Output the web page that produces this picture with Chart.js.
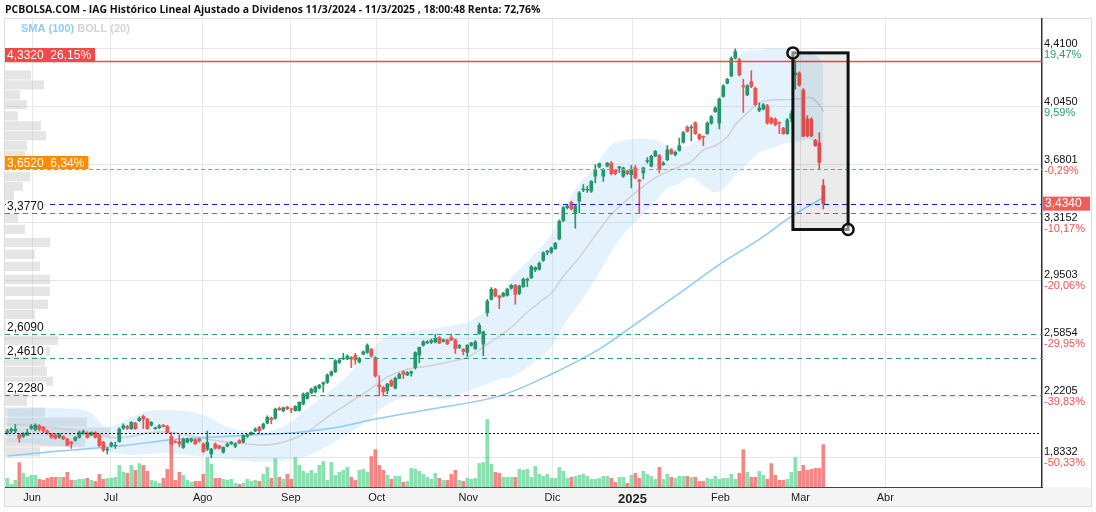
<!DOCTYPE html>
<html>
<head>
<meta charset="utf-8">
<script src="https://cdn.jsdelivr.net/npm/chart.js@4.4.1/dist/chart.umd.min.js"></script>
<style>
html, body { margin: 0; padding: 0; background: #fff; }
#wrap { width: 1096px; height: 512px; }
</style>
</head>
<body>
<div id="wrap"><canvas id="chart" width="1096" height="512"></canvas></div>
<script>
// Month ticks (trading-day index of first session) and labels
const monthIdx = [6.2, 25.9, 48.85, 70.9, 92.35, 115.25, 136.3, 156.3, 178.3, 198.3, 219.5];
const monthLabels = ['Jun', 'Jul', 'Ago', 'Sep', 'Oct', 'Nov', 'Dic', '2025', 'Feb', 'Mar', 'Abr'];

// Right axis ticks
const yTicks = [4.41, 4.045, 3.6801, 3.3152, 2.9503, 2.5854, 2.2205, 1.8332];
const yTickText = ['4,4100', '4,0450', '3,6801', '3,3152', '2,9503', '2,5854', '2,2205', '1,8332'];
const yTickPct = ['19,47%', '9,59%', '-0,29%', '-10,17%', '-20,06%', '-29,95%', '-39,83%', '-50,33%'];

// Daily OHLC, one entry per session
const openP = [
  1.99, 2.00, 2.00, 1.975, 1.966, 1.975, 2.017, 2.01, 2.033, 2.023,
  2.0, 1.98, 1.975, 1.96, 1.966, 1.949, 1.93, 1.94, 1.96, 1.988,
  1.987, 1.975, 1.99, 1.975, 1.93, 1.88, 1.907, 1.905, 1.932, 2.017,
  2.03, 2.015, 2.05, 2.065, 2.093, 2.075, 2.037, 2.015, 2.021, 2.037,
  2.029, 1.966, 1.935, 1.933, 1.897, 1.93, 1.937, 1.945, 1.949, 1.918,
  1.886, 1.855, 1.918, 1.907, 1.866, 1.904, 1.918, 1.904, 1.939, 1.929,
  1.966, 1.979, 2.0, 2.023, 2.017, 2.05, 2.082, 2.08, 2.143, 2.128,
  2.15, 2.14, 2.128, 2.13, 2.17, 2.206, 2.239, 2.247, 2.272, 2.295,
  2.306, 2.352, 2.373, 2.432, 2.455, 2.455, 2.465, 2.477, 2.435, 2.485,
  2.495, 2.516, 2.463, 2.29, 2.275, 2.254, 2.317, 2.27, 2.332, 2.373,
  2.352, 2.365, 2.401, 2.479, 2.541, 2.555, 2.558, 2.562, 2.59, 2.565,
  2.575, 2.59, 2.575, 2.527, 2.516, 2.495, 2.541, 2.52, 2.616, 2.547,
  2.747, 2.83, 2.893, 2.851, 2.851, 2.855, 2.901, 2.918, 2.868, 2.91,
  2.95, 2.967, 3.018, 3.02, 3.076, 3.128, 3.128, 3.15, 3.212, 3.326,
  3.409, 3.443, 3.376, 3.449, 3.52, 3.52, 3.512, 3.607, 3.666, 3.607,
  3.67, 3.69, 3.645, 3.66, 3.607, 3.639, 3.617, 3.66, 3.585, 3.628,
  3.70, 3.67, 3.733, 3.737, 3.68, 3.711, 3.774, 3.743, 3.77, 3.82,
  3.917, 3.911, 3.946, 3.869, 3.858, 3.875, 3.942, 4.015, 3.942, 4.11,
  4.194, 4.24, 4.351, 4.341, 4.178, 4.12, 4.204, 4.162, 4.022, 4.03,
  4.051, 3.974, 3.967, 3.945, 3.911, 3.875, 3.97, 4.246, 4.257, 4.15,
  3.968, 3.968, 3.833, 3.817, 3.548
];
const highP = [
  2.01, 2.02, 2.04, 1.985, 1.99, 2.01, 2.04, 2.045, 2.04, 2.03,
  2.005, 1.985, 1.98, 1.985, 1.97, 1.955, 1.935, 1.965, 2.0, 2.005,
  1.995, 1.995, 1.995, 1.98, 1.935, 1.895, 1.93, 1.93, 2.02, 2.045,
  2.035, 2.06, 2.055, 2.09, 2.10, 2.08, 2.06, 2.025, 2.04, 2.04,
  2.035, 1.99, 1.94, 1.975, 1.955, 1.955, 1.955, 1.95, 1.955, 1.925,
  2.0, 1.89, 1.925, 1.91, 1.90, 1.925, 1.935, 1.925, 1.945, 1.975,
  1.98, 1.995, 2.02, 2.03, 2.05, 2.095, 2.088, 2.145, 2.15, 2.15,
  2.155, 2.145, 2.16, 2.185, 2.24, 2.245, 2.27, 2.285, 2.295, 2.31,
  2.36, 2.38, 2.45, 2.455, 2.49, 2.48, 2.47, 2.49, 2.465, 2.505,
  2.55, 2.52, 2.47, 2.35, 2.28, 2.30, 2.325, 2.34, 2.365, 2.38,
  2.375, 2.38, 2.50, 2.53, 2.57, 2.57, 2.58, 2.61, 2.595, 2.58,
  2.58, 2.61, 2.58, 2.545, 2.52, 2.545, 2.56, 2.57, 2.68, 2.63,
  2.83, 2.905, 2.90, 2.855, 2.875, 2.90, 2.925, 2.925, 2.92, 2.965,
  2.965, 3.045, 3.036, 3.065, 3.13, 3.14, 3.16, 3.19, 3.33, 3.415,
  3.43, 3.45, 3.425, 3.51, 3.555, 3.545, 3.58, 3.68, 3.69, 3.655,
  3.695, 3.70, 3.65, 3.67, 3.665, 3.645, 3.674, 3.675, 3.588, 3.665,
  3.725, 3.74, 3.77, 3.745, 3.70, 3.80, 3.78, 3.765, 3.848, 3.89,
  3.925, 3.93, 3.95, 3.875, 3.86, 3.95, 3.99, 4.045, 4.10, 4.185,
  4.225, 4.36, 4.41, 4.35, 4.219, 4.185, 4.273, 4.17, 4.07, 4.065,
  4.06, 3.98, 3.975, 3.95, 3.915, 3.97, 4.02, 4.336, 4.265, 4.16,
  3.99, 3.975, 3.84, 3.883, 3.586
];
const lowP = [
  1.98, 1.99, 1.99, 1.93, 1.96, 1.97, 2.01, 2.0, 2.0, 1.99,
  1.98, 1.955, 1.95, 1.955, 1.945, 1.905, 1.89, 1.935, 1.955, 1.98,
  1.955, 1.97, 1.955, 1.90, 1.87, 1.855, 1.90, 1.89, 1.93, 2.01,
  2.01, 2.01, 2.01, 2.06, 2.015, 2.01, 2.03, 2.01, 2.015, 2.025,
  1.985, 1.91, 1.925, 1.90, 1.89, 1.925, 1.93, 1.915, 1.93, 1.865,
  1.876, 1.83, 1.885, 1.885, 1.86, 1.90, 1.915, 1.895, 1.92, 1.925,
  1.96, 1.975, 1.995, 1.985, 2.01, 2.045, 2.044, 2.075, 2.13, 2.12,
  2.135, 2.115, 2.125, 2.125, 2.165, 2.20, 2.235, 2.24, 2.265, 2.245,
  2.30, 2.345, 2.37, 2.425, 2.45, 2.45, 2.40, 2.42, 2.43, 2.48,
  2.49, 2.465, 2.34, 2.225, 2.225, 2.235, 2.28, 2.265, 2.33, 2.33,
  2.35, 2.345, 2.39, 2.43, 2.535, 2.55, 2.55, 2.555, 2.55, 2.56,
  2.545, 2.57, 2.49, 2.52, 2.48, 2.47, 2.535, 2.515, 2.61, 2.475,
  2.725, 2.825, 2.845, 2.772, 2.845, 2.85, 2.895, 2.80, 2.86, 2.905,
  2.91, 2.96, 3.005, 3.015, 3.07, 3.11, 3.12, 3.145, 3.205, 3.32,
  3.40, 3.395, 3.28, 3.376, 3.51, 3.505, 3.505, 3.565, 3.66, 3.575,
  3.665, 3.615, 3.615, 3.63, 3.60, 3.615, 3.533, 3.59, 3.376, 3.59,
  3.69, 3.665, 3.73, 3.628, 3.675, 3.705, 3.745, 3.735, 3.765, 3.815,
  3.885, 3.83, 3.87, 3.835, 3.80, 3.87, 3.935, 4.01, 3.905, 4.105,
  4.19, 4.235, 4.345, 4.24, 4.009, 4.115, 4.165, 4.05, 4.015, 4.025,
  3.935, 3.935, 3.925, 3.876, 3.87, 3.87, 3.95, 4.156, 4.175, 3.855,
  3.855, 3.855, 3.795, 3.649, 3.40
];
const closeP = [
  2.00, 2.01, 2.01, 1.955, 1.981, 1.99, 2.03, 2.037, 2.012, 2.0,
  1.987, 1.96, 1.955, 1.98, 1.95, 1.911, 1.92, 1.96, 1.99, 1.996,
  1.96, 1.99, 1.96, 1.907, 1.88, 1.886, 1.924, 1.91, 2.012, 2.033,
  2.017, 2.054, 2.015, 2.08, 2.075, 2.015, 2.054, 2.02, 2.033, 2.029,
  1.991, 1.918, 1.93, 1.918, 1.949, 1.949, 1.949, 1.918, 1.937, 1.87,
  1.929, 1.886, 1.891, 1.891, 1.897, 1.918, 1.929, 1.918, 1.924, 1.971,
  1.975, 1.991, 2.012, 2.002, 2.044, 2.086, 2.071, 2.138, 2.134, 2.146,
  2.14, 2.137, 2.155, 2.18, 2.233, 2.239, 2.264, 2.279, 2.289, 2.305,
  2.352, 2.373, 2.442, 2.448, 2.46, 2.473, 2.453, 2.448, 2.458, 2.499,
  2.541, 2.473, 2.348, 2.28, 2.247, 2.296, 2.285, 2.332, 2.358, 2.358,
  2.369, 2.373, 2.495, 2.527, 2.562, 2.562, 2.571, 2.584, 2.554, 2.575,
  2.549, 2.575, 2.52, 2.541, 2.502, 2.541, 2.554, 2.562, 2.667, 2.625,
  2.819, 2.893, 2.851, 2.841, 2.868, 2.893, 2.918, 2.862, 2.914, 2.956,
  2.958, 3.036, 3.03, 3.057, 3.124, 3.135, 3.154, 3.183, 3.323, 3.409,
  3.418, 3.401, 3.418, 3.502, 3.527, 3.524, 3.575, 3.645, 3.686, 3.649,
  3.69, 3.623, 3.623, 3.666, 3.66, 3.623, 3.649, 3.597, 3.576, 3.66,
  3.705, 3.733, 3.764, 3.649, 3.69, 3.774, 3.749, 3.758, 3.80, 3.883,
  3.89, 3.917, 3.875, 3.842, 3.854, 3.942, 3.984, 4.037, 4.093, 4.177,
  4.219, 4.351, 4.393, 4.246, 4.17, 4.177, 4.173, 4.058, 4.037, 4.058,
  3.942, 3.942, 3.932, 3.94, 3.875, 3.963, 4.00, 4.257, 4.183, 3.86,
  3.862, 3.862, 3.80, 3.694, 3.434
];
// Volume (millions)
const volume = [
  9, 3, 7, 25, 14, 10, 12, 12, 8, 7,
  9, 10, 10, 10, 10, 15, 7, 7, 8, 8,
  9, 7, 6, 13, 8, 9, 9, 10, 22, 15,
  14, 22, 17, 24, 22, 16, 7, 6, 4, 9,
  18, 48, 7, 15, 12, 7, 5, 6, 6, 13,
  30, 23, 9, 9, 8, 7, 8, 4, 3, 4,
  8, 6, 7, 6, 13, 20, 9, 29, 10, 8,
  13, 8, 30, 22, 16, 14, 17, 14, 22, 26,
  7, 25, 12, 15, 17, 20, 10, 7, 17, 18,
  15, 31, 38, 22, 17, 12, 8, 11, 11, 5,
  6, 19, 18, 16, 13, 10, 8, 14, 9, 7,
  7, 13, 17, 7, 6, 9, 8, 9, 24, 25,
  68, 23, 15, 14, 10, 10, 10, 10, 18, 17,
  18, 10, 21, 13, 11, 13, 9, 9, 20, 16,
  9, 10, 11, 12, 13, 11, 8, 8, 9, 11,
  11, 9, 5, 10, 10, 4, 12, 14, 9, 16,
  13, 11, 8, 20, 8, 13, 10, 9, 11, 11,
  11, 10, 10, 6, 6, 9, 8, 11, 8, 9,
  9, 13, 8, 14, 38, 15, 10, 10, 16, 12,
  8, 24, 12, 7, 7, 8, 15, 30, 16, 22,
  17, 18, 19, 19, 43
];

// SMA (100), read at a few sessions
const smaIdx = [0, 13, 28, 43, 61, 71, 83, 92, 106, 123, 136, 148, 158, 168, 178, 188, 196, 204];
const smaVal = [1.842, 1.874, 1.905, 1.949, 1.975, 1.987, 2.025, 2.075, 2.138, 2.22, 2.358, 2.516, 2.692, 2.868, 3.05, 3.208, 3.353, 3.472];

// Bollinger (20)
const bollIdx = [0, 10, 20, 25, 30, 35, 40, 45, 50, 55, 60, 65, 70, 75, 80, 85, 90, 95, 100, 105,
  110, 115, 120, 123, 126, 130, 134, 136, 139, 143, 147, 151, 155, 158, 162, 165, 168, 171, 174, 177,
  180, 182, 184, 188, 192, 195, 198, 201, 203, 204];
const bollUp = [2.138, 2.144, 2.126, 2.025, 2.075, 2.126, 2.132, 2.126, 2.088, 2.025,
  2.0, 1.993, 2.044, 2.138, 2.239, 2.346, 2.484, 2.598, 2.623, 2.642,
  2.660, 2.686, 2.767, 2.849, 2.963, 3.070, 3.177, 3.239, 3.397, 3.560,
  3.667, 3.806, 3.837, 3.844, 3.837, 3.800, 3.790, 3.810, 3.870, 4.070,
  4.196, 4.328, 4.397, 4.404, 4.416, 4.41, 4.404, 4.385, 4.353, 4.297];
const bollMid = [2.044, 2.025, 1.993, 1.962, 1.962, 1.987, 1.993, 1.975, 1.949, 1.930,
  1.918, 1.911, 1.937, 1.993, 2.088, 2.170, 2.251, 2.340, 2.390, 2.409,
  2.434, 2.465, 2.547, 2.598, 2.654, 2.749, 2.830, 2.868, 2.975, 3.095,
  3.233, 3.365, 3.460, 3.523, 3.598, 3.636, 3.667, 3.699, 3.774, 3.800,
  3.856, 3.932, 3.982, 4.070, 4.089, 4.089, 4.095, 4.102, 4.058, 4.014];
const bollLow = [1.930, 1.912, 1.886, 1.874, 1.849, 1.855, 1.861, 1.849, 1.836, 1.823,
  1.810, 1.804, 1.817, 1.842, 1.905, 1.981, 2.063, 2.170, 2.214, 2.214,
  2.201, 2.251, 2.296, 2.327, 2.340, 2.402, 2.484, 2.528, 2.661, 2.805,
  2.956, 3.126, 3.271, 3.340, 3.447, 3.530, 3.560, 3.600, 3.548, 3.504,
  3.554, 3.617, 3.661, 3.756, 3.793, 3.818, 3.825, 3.837, 3.774, 3.693];

// Volume at price (left profile)
const profPrice = [4.246, 4.183, 4.12, 4.058, 3.988, 3.925, 3.862, 3.80, 3.737, 3.604, 3.542, 3.485,
  3.346, 3.271, 3.189, 3.114, 3.038, 2.956, 2.881, 2.799, 2.736, 2.66, 2.572, 2.503, 2.44, 2.377,
  2.314, 2.251, 2.188, 2.119, 2.056, 1.993, 1.93, 1.868];
const profVol = [26, 39, 15, 22, 13, 36, 41, 22, 20, 25, 18, 9,
  13, 20, 45, 30, 35, 45, 45, 43, 30, 20, 53, 45, 40, 42,
  48, 20, 22, 40, 82, 105, 80, 35];

// Horizontal levels
const levelPrice = [4.332, 3.652, 3.434, 3.377, 2.609, 2.461, 2.228, 1.9877];
const levelText = ['4,3320  26,15%', '3,6520  6,34%', '', '3,3770', '2,6090', '2,4610', '2,2280', ''];
const lastPrice = 3.434;
const lastText = '3,4340';

// Drawn rectangle (session index / price corners)
const boxIdx = [196.4, 210.2];
const boxPrice = [4.385, 3.271];

// ---- styles ----
const UP = '#26966a';
const DOWN = '#f05252';
const VOL_UP = 'rgba(38,200,110,0.55)';
const VOL_DOWN = 'rgba(240,60,60,0.62)';
const PROF_H = 0.058;
const levelStyle = [
  { color: '#f24848', dash: [], width: 1.4, box: true },
  { color: '#ff8c00', dash: [4, 3], width: 1.2, box: true },
  { color: '#1414ff', dash: [5, 4], width: 1.2, box: false },
  { color: '#2a9d6f', dash: [5, 4], width: 1.2, box: false },
  { color: '#2a9d6f', dash: [5, 4], width: 1.2, box: false },
  { color: '#2a9d6f', dash: [5, 4], width: 1.2, box: false },
  { color: '#2a9d6f', dash: [5, 4], width: 1.2, box: false },
  { color: '#111', dash: [2, 2], width: 1, box: false }
];
const FONT = '"Liberation Sans", Arial, sans-serif';
Chart.defaults.font.family = FONT;

const isUp = i => closeP[i] >= openP[i];
const idx = openP.map((_, i) => i);

const wickData = idx.map(i => ({ x: i, y: [lowP[i], highP[i]] }));
const bodyData = idx.map(i => ({ x: i, y: [Math.min(openP[i], closeP[i]), Math.max(openP[i], closeP[i])] }));
const volData = idx.map(i => ({ x: i, y: volume[i] }));
const smaData = smaIdx.map((x, k) => ({ x: x, y: smaVal[k] }));
const upData = bollIdx.map((x, k) => ({ x: x, y: bollUp[k] }));
const midData = bollIdx.map((x, k) => ({ x: x, y: bollMid[k] }));
const lowData = bollIdx.map((x, k) => ({ x: x, y: bollLow[k] }));

// Extra drawing: title, profile, levels, box, right labels
const overlay = {
    id: 'overlay',
    beforeDraw(chart) {
        const c = chart.ctx, a = chart.chartArea;
        c.save();
        c.fillStyle = '#fff';
        c.fillRect(0, 0, chart.width, chart.height);
        c.fillStyle = '#f4f4f4';
        c.fillRect(a.left, a.bottom, chart.width - 4 - a.left, 507 - a.bottom);
        c.strokeStyle = '#dedede';
        c.lineWidth = 1;
        c.strokeRect(a.left - 0.5, a.top - 0.5, chart.width - 4 - a.left, 507 - a.top);
        c.restore();
    },
    beforeDatasetsDraw(chart) {
        const c = chart.ctx, a = chart.chartArea, y = chart.scales.y, xp = chart.scales.xProf;
        c.save();
        c.beginPath();
        c.rect(a.left, a.top, a.right - a.left, a.bottom - a.top);
        c.clip();
        c.fillStyle = 'rgba(190,190,190,0.4)';
        profPrice.forEach((p, k) => {
            const t = y.getPixelForValue(p + PROF_H / 2);
            const b = y.getPixelForValue(p - PROF_H / 2);
            c.fillRect(a.left, t, xp.getPixelForValue(profVol[k]) - a.left, b - t);
        });
        c.restore();
    },
    afterDatasetsDraw(chart) {
        const c = chart.ctx, a = chart.chartArea, y = chart.scales.y, x = chart.scales.x;
        c.save();
        // level lines
        levelPrice.forEach((p, k) => {
            const st = levelStyle[k];
            const py = Math.round(y.getPixelForValue(p)) + 0.5;
            c.beginPath();
            c.setLineDash(st.dash);
            c.strokeStyle = st.color;
            c.lineWidth = st.width;
            c.moveTo(a.left, py);
            c.lineTo(a.right, py);
            c.stroke();
        });
        c.setLineDash([]);
        // level labels
        c.textBaseline = 'alphabetic';
        levelPrice.forEach((p, k) => {
            const txt = levelText[k];
            if (!txt) return;
            const st = levelStyle[k];
            const py = Math.round(y.getPixelForValue(p));
            c.font = '12px ' + FONT;
            const w = c.measureText(txt).width;
            if (st.box) {
                c.fillStyle = st.color;
                c.fillRect(a.left, py - 13, w + 6, 13);
                c.fillStyle = '#fff';
                c.fillText(txt, a.left + 2, py - 2.5);
            } else {
                c.fillStyle = '#fff';
                c.fillRect(a.left + 1, py - 13, w + 3, 11.5);
                c.fillStyle = '#111';
                c.fillText(txt, a.left + 2, py - 3);
            }
        });
        // drawn rectangle
        const bx0 = x.getPixelForValue(boxIdx[0]), bx1 = x.getPixelForValue(boxIdx[1]);
        const by0 = y.getPixelForValue(boxPrice[0]), by1 = y.getPixelForValue(boxPrice[1]);
        c.fillStyle = 'rgba(0,0,0,0.08)';
        c.fillRect(bx0, by0, bx1 - bx0, by1 - by0);
        c.strokeStyle = '#111';
        c.lineWidth = 3;
        c.strokeRect(bx0, by0, bx1 - bx0, by1 - by0);
        c.lineWidth = 2.5;
        [[bx0, by0], [bx1, by1]].forEach(pt => {
            c.beginPath();
            c.arc(pt[0], pt[1], 5.5, 0, Math.PI * 2);
            c.fillStyle = 'rgba(255,255,255,0.5)';
            c.fill();
            c.stroke();
        });
        c.restore();
    },
    afterDraw(chart) {
        const c = chart.ctx, a = chart.chartArea, y = chart.scales.y;
        c.save();
        // right axis labels
        c.font = '11px ' + FONT;
        c.textBaseline = 'middle';
        c.textAlign = 'left';
        yTicks.forEach((v, k) => {
            const py = y.getPixelForValue(v);
            c.fillStyle = '#111';
            c.fillText(yTickText[k], a.right + 2, py - 5);
            c.fillStyle = yTickPct[k].charAt(0) === '-' ? '#f05555' : '#2a9d6f';
            c.fillText(yTickPct[k], a.right + 2, py + 6);
        });
        // last price tag
        const ly = y.getPixelForValue(lastPrice);
        c.fillStyle = '#f25b5b';
        c.fillRect(a.right + 1, ly - 7, 47, 14);
        c.fillStyle = '#fff';
        c.font = '12px ' + FONT;
        c.fillText(lastText, a.right + 3, ly + 0.5);
        // title
        c.fillStyle = '#111';
        c.textBaseline = 'middle';
        let fs = 12;
        const title = 'PCBOLSA.COM - IAG Histórico Lineal Ajustado a Dividenos 11/3/2024 - 11/3/2025 , 18:00:48 Renta: 72,76%';
        c.font = 'bold ' + fs + 'px "Open Sans", ' + FONT;
        fs = fs * 536 / c.measureText(title).width;
        c.font = 'bold ' + fs.toFixed(2) + 'px "Open Sans", ' + FONT;
        c.fillText(title, 5, 10.5);
        // legend
        c.font = 'bold 11px ' + FONT;
        c.fillStyle = '#90caf9';
        c.fillText('SMA (100)', 21, 29);
        const w = c.measureText('SMA (100) ').width;
        c.fillStyle = '#d3d3d3';
        c.fillText('BOLL (20)', 21 + w, 29);
        c.restore();
    }
};

new Chart(document.getElementById('chart').getContext('2d'), {
    type: 'bar',
    data: {
        datasets: [
            {
                type: 'bar', label: 'body', data: bodyData, order: 1, grouped: false,
                barThickness: 3, backgroundColor: ctx => isUp(ctx.dataIndex) ? UP : DOWN
            },
            {
                type: 'bar', label: 'wick', data: wickData, order: 2, grouped: false,
                barThickness: 1, backgroundColor: ctx => isUp(ctx.dataIndex) ? UP : DOWN
            },
            {
                type: 'bar', label: 'vol', data: volData, order: 3, grouped: false, yAxisID: 'yVol',
                barThickness: 3, backgroundColor: ctx => isUp(ctx.dataIndex) ? VOL_UP : VOL_DOWN
            },
            {
                type: 'line', label: 'SMA (100)', data: smaData, order: 4,
                borderColor: '#90caf9', borderWidth: 1.5, pointRadius: 0, fill: false, tension: 0.3
            },
            {
                type: 'line', label: 'BOLL mid', data: midData, order: 5,
                borderColor: 'rgba(205,205,205,0.9)', borderWidth: 1.5, pointRadius: 0, fill: false, tension: 0.3
            },
            {
                type: 'line', label: 'BOLL up', data: upData, order: 6,
                borderColor: 'transparent', borderWidth: 0, pointRadius: 0, tension: 0.3,
                fill: '+1', backgroundColor: 'rgba(144,202,249,0.25)'
            },
            {
                type: 'line', label: 'BOLL low', data: lowData, order: 7,
                borderColor: 'transparent', borderWidth: 0, pointRadius: 0, tension: 0.3, fill: false
            }
        ]
    },
    options: {
        responsive: false,
        animation: false,
        devicePixelRatio: 1,
        layout: { padding: { left: 5, right: 54, top: 19, bottom: 1 } },
        plugins: { legend: { display: false }, tooltip: { enabled: false } },
        scales: {
            x: {
                type: 'linear', min: -0.575, max: 258.675, offset: false,
                afterBuildTicks: s => { s.ticks = monthIdx.map(v => ({ value: v })); },
                ticks: {
                    autoSkip: false, maxRotation: 0, padding: 4, color: '#222',
                    callback: (v, k) => monthLabels[k],
                    font: ctx => (ctx.tick && ctx.tick.label === '2025') ? { size: 13, weight: 'bold' } : { size: 11 }
                },
                grid: { color: '#e8e8e8', drawTicks: false, offset: false },
                border: { color: '#444', width: 1 }
            },
            y: {
                type: 'linear', position: 'right', min: 1.6441, max: 4.5988,
                afterBuildTicks: s => { s.ticks = yTicks.map(v => ({ value: v })); },
                ticks: { display: false },
                grid: { color: '#e6e6e6', drawTicks: false },
                border: { color: '#333', width: 1.5 }
            },
            yVol: { type: 'linear', display: false, min: 0, max: 469.5 },
            xProf: { type: 'linear', display: false, min: 0, max: 1037, offset: false }
        }
    },
    plugins: [overlay]
});
</script>
</body>
</html>
